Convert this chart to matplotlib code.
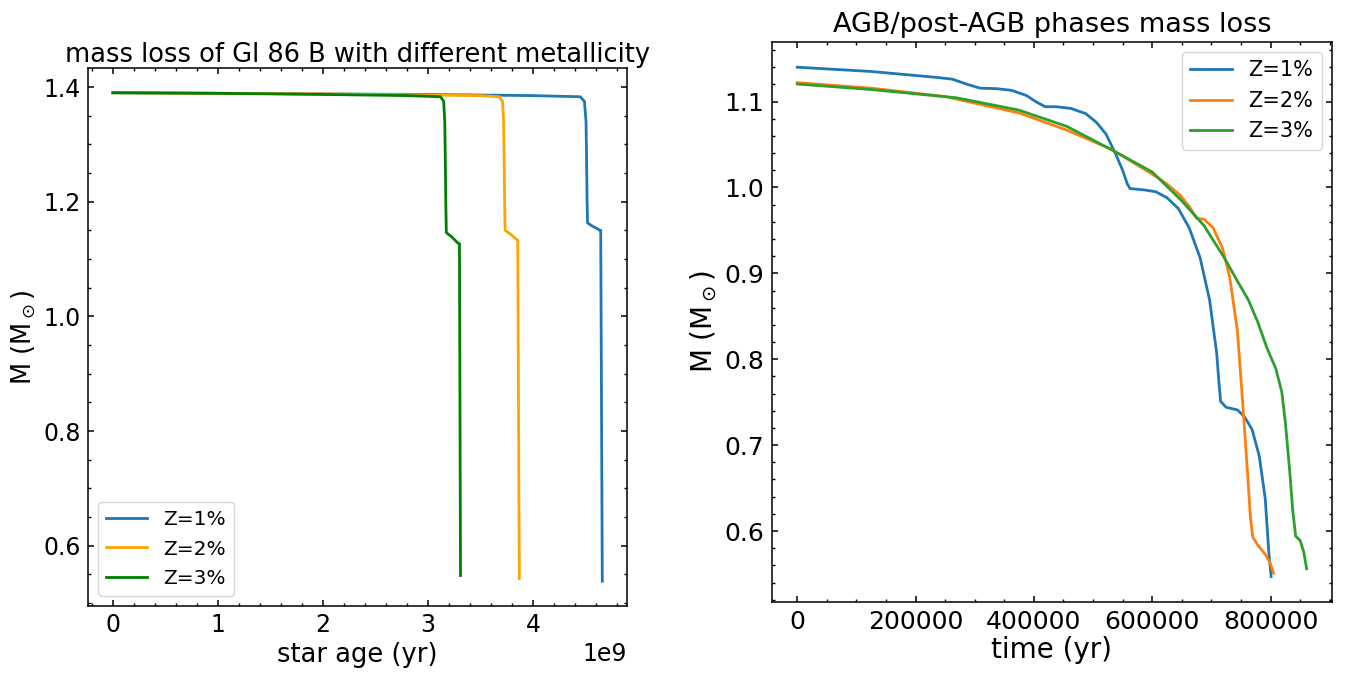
import matplotlib
matplotlib.use('Agg')
import matplotlib.pyplot as plt
import numpy as np

# ---- left panel: full evolution (star age in yr) ----
age_z1 = [0, 1.0e9, 2.0e9, 3.0e9, 4.0e9, 4.45e9, 4.49e9, 4.505e9, 4.51e9, 4.515e9, 4.52e9, 4.56e9, 4.64e9, 4.645e9, 4.66e9]
mass_z1 = [1.390, 1.389, 1.388, 1.387, 1.385, 1.383, 1.375, 1.34, 1.28, 1.20, 1.163, 1.158, 1.150, 1.15, 0.538]

age_z2 = [0, 1.0e9, 2.0e9, 3.0e9, 3.5e9, 3.68e9, 3.71e9, 3.72e9, 3.725e9, 3.73e9, 3.735e9, 3.79e9, 3.85e9, 3.855e9, 3.87e9]
mass_z2 = [1.390, 1.389, 1.388, 1.386, 1.385, 1.383, 1.375, 1.34, 1.28, 1.20, 1.150, 1.143, 1.133, 1.133, 0.543]

age_z3 = [0, 1.0e9, 2.0e9, 2.8e9, 3.12e9, 3.15e9, 3.16e9, 3.165e9, 3.17e9, 3.175e9, 3.23e9, 3.29e9, 3.30e9, 3.31e9]
mass_z3 = [1.390, 1.389, 1.387, 1.385, 1.383, 1.375, 1.34, 1.28, 1.20, 1.146, 1.138, 1.127, 1.127, 0.548]

# ---- right panel: AGB / post-AGB (time in yr) ----
t_z1 = [0, 125000, 237500, 262500, 287500, 309000, 337500, 362500, 387500, 403000, 419000,
        437500, 462500, 487500, 506000, 522000, 537500, 550000, 558000, 562500, 587500, 606000,
        625000, 644000, 662500, 681000, 697000, 709000, 712500, 715600, 725000, 744000, 756000,
        769000, 781000, 791000, 797000, 801000]
m_z1 = [1.140, 1.135, 1.128, 1.126, 1.120, 1.1156, 1.115, 1.113, 1.107, 1.100, 1.094,
        1.094, 1.092, 1.086, 1.0756, 1.062, 1.040, 1.020, 1.004, 0.9987, 0.997, 0.995,
        0.988, 0.9756, 0.953, 0.918, 0.869, 0.807, 0.7756, 0.751, 0.744, 0.741, 0.733,
        0.718, 0.687, 0.638, 0.576, 0.547]

t_z2 = [0, 125000, 250000, 375000, 456000, 531000, 600000, 625000, 647000, 662500, 675000,
        687500, 703000, 719000, 731000, 744000, 753000, 761000, 766000, 770000, 778000,
        791000, 800000, 805000]
m_z2 = [1.122, 1.1156, 1.1058, 1.0867, 1.0667, 1.0444, 1.0156, 1.004, 0.991, 0.978, 0.964,
        0.963, 0.953, 0.929, 0.8956, 0.833, 0.749, 0.669, 0.616, 0.593, 0.584,
        0.573, 0.562, 0.551]

t_z3 = [0, 125000, 269000, 375000, 456000, 531000, 600000, 650000, 687500, 722000, 744000,
        762500, 778000, 794000, 809000, 819000, 825000, 832500, 837500, 842500, 850000,
        856000, 861000]
m_z3 = [1.1204, 1.114, 1.1044, 1.090, 1.071, 1.044, 1.018, 0.9844, 0.9556, 0.918, 0.891,
        0.869, 0.844, 0.813, 0.789, 0.762, 0.727, 0.669, 0.624, 0.594, 0.589,
        0.576, 0.556]

labels = ['Z=1%', 'Z=2%', 'Z=3%']

fig = plt.figure(figsize=(13.45, 6.73), dpi=100)

def style(ax, size):
    ax.minorticks_on()
    ax.tick_params(which='both', direction='in', top=True, right=True, labelsize=size)
    ax.tick_params(which='major', length=4.2, width=1.1, pad=5.5)
    ax.tick_params(which='minor', length=2.2, width=1)
    for s in ax.spines.values():
        s.set_linewidth(1.1)

# left
ax1 = fig.add_axes([0.0657, 0.100, 0.4003, 0.7985])
ax1.plot(age_z1, mass_z1, color='tab:blue', lw=2, label=labels[0])
ax1.plot(age_z2, mass_z2, color='orange', lw=2, label=labels[1])
ax1.plot(age_z3, mass_z3, color='green', lw=2, label=labels[2])
style(ax1, 17)
ax1.xaxis.get_offset_text().set_fontsize(17)
ax1.set_xlabel('star age (yr)', fontsize=18.5, labelpad=3)
ax1.set_ylabel(r'M (M$_\odot$)', fontsize=18.5)
ax1.set_title('mass loss of Gl 86 B with different metallicity', fontsize=18.5, pad=4)
ax1.legend(loc='lower left', fontsize=14.5)

# right
ax2 = fig.add_axes([0.5738, 0.1055, 0.4166, 0.8325])
ax2.plot(t_z1, m_z1, color='tab:blue', lw=2, label=labels[0])
ax2.plot(t_z2, m_z2, color='tab:orange', lw=2, label=labels[1])
ax2.plot(t_z3, m_z3, color='tab:green', lw=2, label=labels[2])
style(ax2, 18)
ax2.set_xlabel('time (yr)', fontsize=20, labelpad=2)
ax2.set_ylabel(r'M (M$_\odot$)', fontsize=20)
ax2.set_title('AGB/post-AGB phases mass loss', fontsize=19.5, pad=7)
ax2.legend(loc='upper right', fontsize=15)

fig.savefig('out.png', dpi=100)
